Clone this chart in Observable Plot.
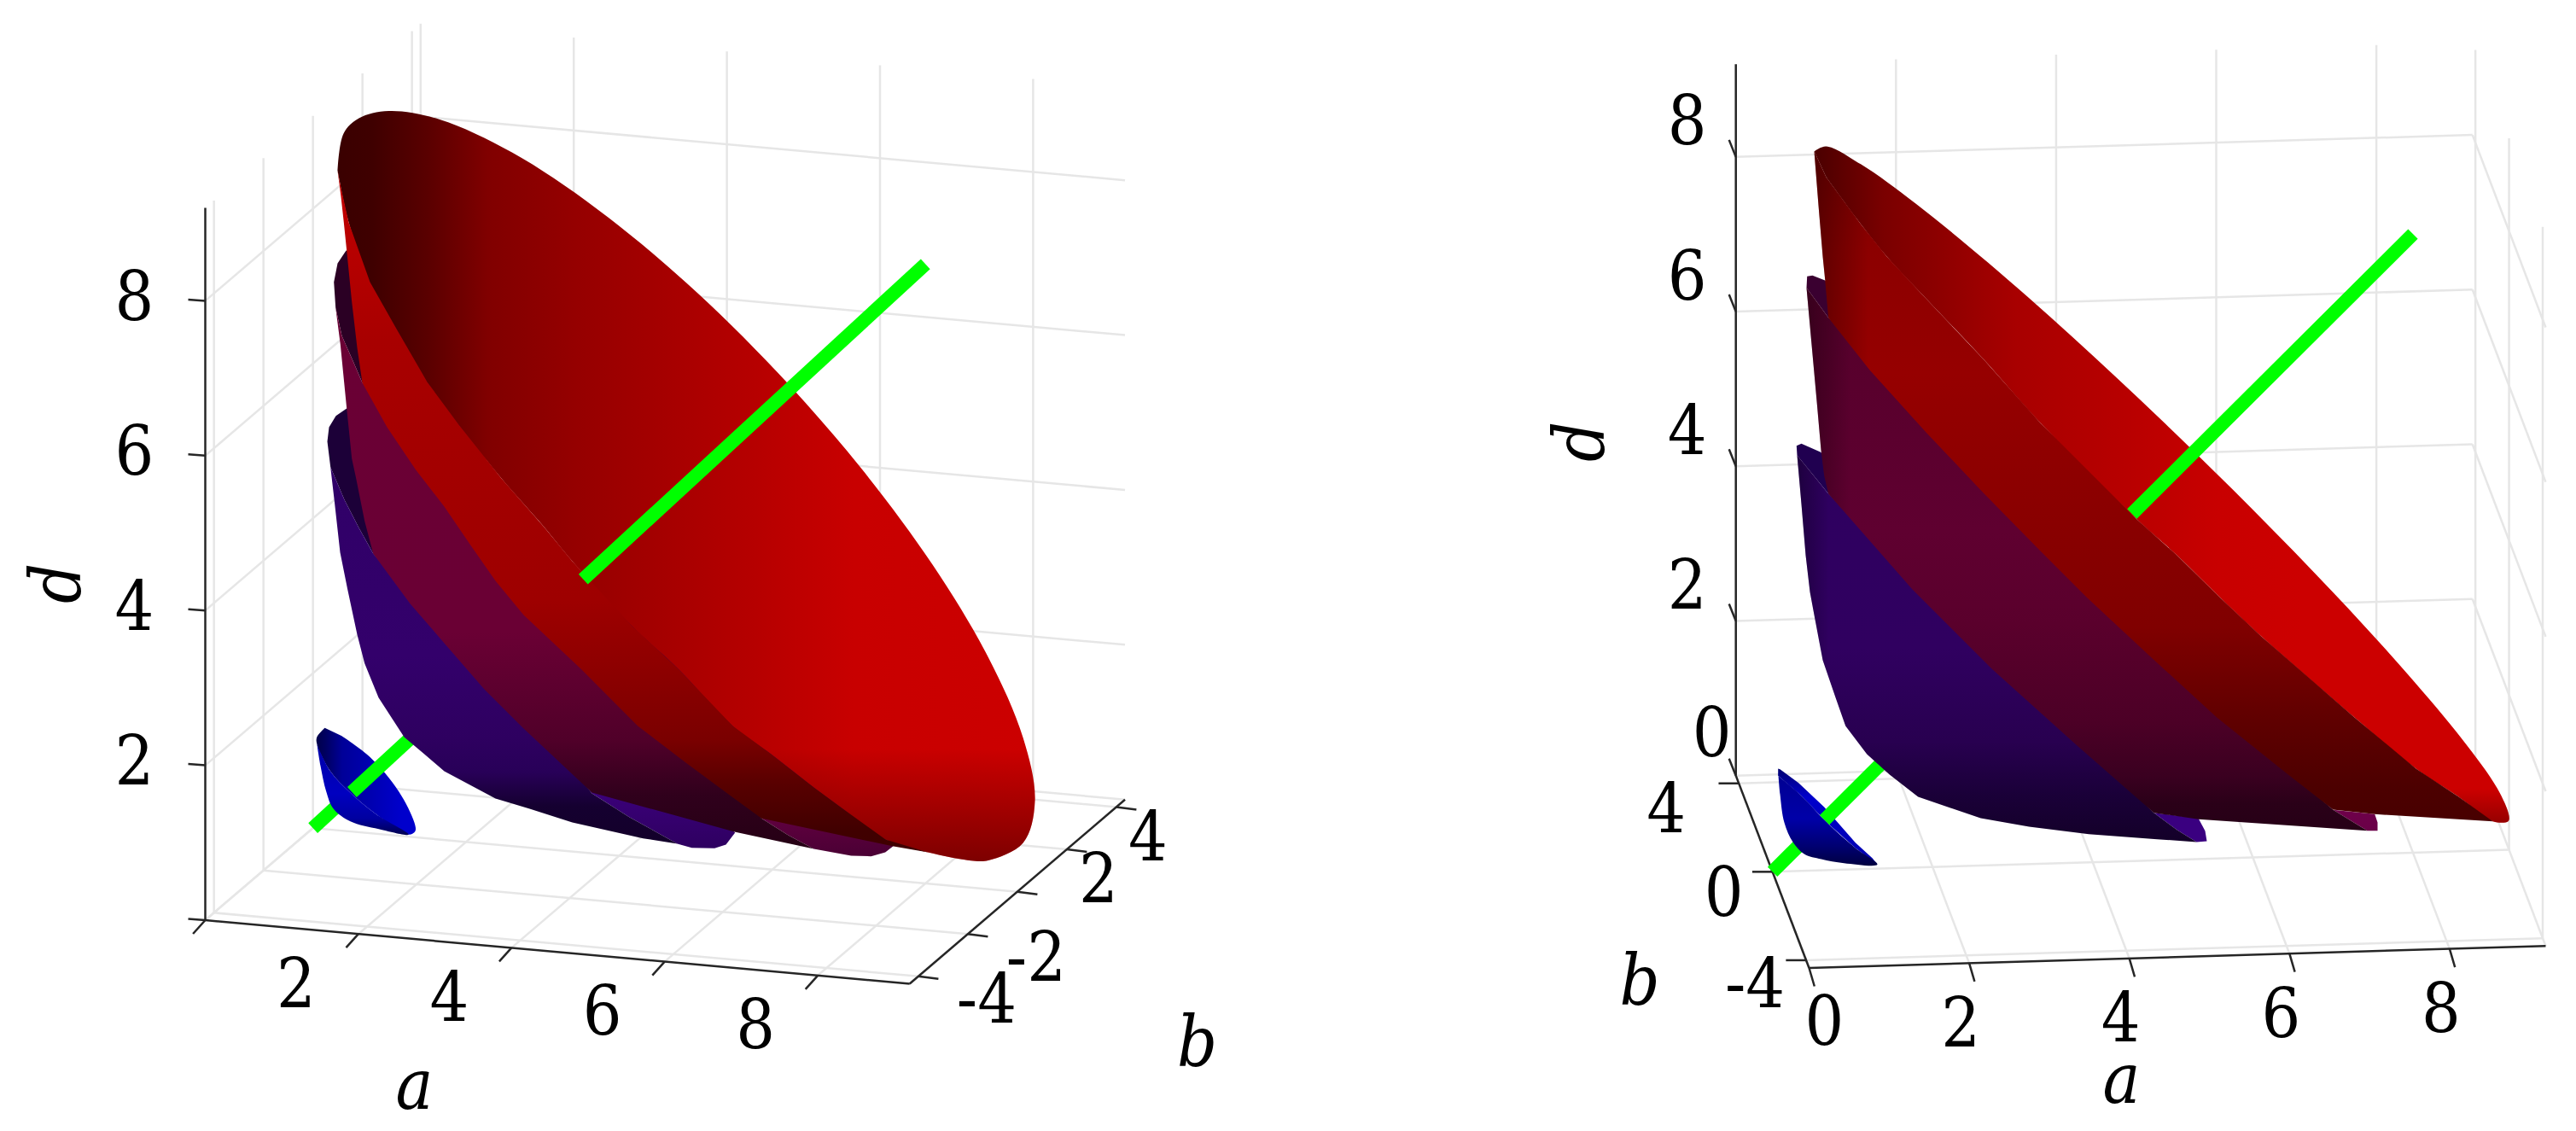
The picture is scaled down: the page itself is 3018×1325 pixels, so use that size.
<!DOCTYPE html>
<html><head><meta charset="utf-8">
<script src="https://cdn.jsdelivr.net/npm/d3@7"></script>
<script src="https://cdn.jsdelivr.net/npm/@observablehq/plot@0.6"></script>
<style>html,body{margin:0;padding:0;background:#fff;overflow:hidden}svg{display:block}
svg text{font-family:"DejaVu Serif Condensed","DejaVu Serif",serif !important}</style>
</head><body><div id="chart"></div>
<script>
// ---- axis values
const aTicks=[0,2,4,6,8];
const dTicks=[0,2,4,6,8];
const bTicksL=[-4,-2,0,2,4];
const bTicksR=[-4,0,4];
const aLabelsL=[2,4,6,8], bLabelsL=[-4,-2,2,4], dLabelsL=[2,4,6,8];
const aLabelsR=[0,2,4,6,8], bLabelsR=[-4,0,4], dLabelsR=[0,2,4,6,8];
const aMax=9.2, bLim=4.35, dMax=9.2;
// ---- the green axis: a = d, b = 0, drawn from a=0 to a=8; visible stretches
const greenLow=[0,0.4];
const greenMidL=[0.51,1.5], greenMidR=[0.65,1.5];
const greenTopL=[3.53,8], greenTopR=[4.49,8];
// ---- surface silhouettes (view-plane units)
const smallDiscL=[[3.80,8.523],[3.707,8.633],[3.71,8.717],[3.867,9.033],[4.10,9.283],[4.40,9.533],[4.783,9.773],[4.86,9.733],[4.85,9.633],[4.667,9.267],[4.333,8.867],[4.00,8.617]];
const smallShellL=[[3.707,8.70],[3.75,8.967],[3.817,9.267],[3.90,9.467],[4.10,9.617],[4.433,9.707],[4.783,9.773],[4.40,9.533],[4.10,9.283],[3.867,9.033],[3.71,8.717]];
const blueDiscL=[[4.057,4.78],[3.93,4.867],[3.85,5.00],[3.83,5.167],[3.867,5.467],[4.03,5.85],[4.20,6.18],[4.367,6.48],[5.00,7.15],[5.70,7.90],[6.40,8.60],[6.93,9.29],[7.367,9.567],[7.93,9.88],[8.10,9.927],[8.367,9.933],[8.50,9.89],[8.607,9.75],[8.00,9.20],[6.00,7.00],[4.50,4.80]];
const blueShellL=[[3.867,5.467],[3.917,5.90],[3.98,6.467],[4.067,6.90],[4.18,7.43],[4.267,7.767],[4.43,8.167],[4.60,8.43],[4.73,8.63],[4.967,8.83],[5.20,9.03],[5.80,9.35],[6.20,9.47],[6.70,9.63],[7.53,9.817],[7.93,9.88],[7.367,9.567],[6.93,9.29],[6.40,8.60],[5.70,7.90],[5.00,7.15],[4.367,6.48],[4.20,6.18],[4.03,5.85]];
const magDiscL=[[4.05,2.93],[3.95,3.08],[3.907,3.30],[3.927,3.60],[4.00,3.93],[4.133,4.23],[4.24,4.48],[5.00,5.30],[6.40,7.00],[8.917,9.583],[9.23,9.78],[9.53,9.94],[9.967,10.02],[10.20,10.027],[10.367,9.98],[10.46,9.907],[9.50,9.00],[6.00,6.00],[4.50,3.00]];
const magShellL=[[3.927,3.60],[3.983,4.03],[4.057,4.78],[4.117,5.367],[4.167,5.60],[4.267,6.10],[4.367,6.48],[4.80,7.067],[5.20,7.53],[5.667,8.067],[6.13,8.53],[6.93,9.28],[8.60,9.74],[9.53,9.94],[9.23,9.78],[8.917,9.583],[8.00,8.40],[6.40,7.00],[5.00,5.30],[4.24,4.48],[4.133,4.23],[4.00,3.93]];
const redDiscL=[[3.95,1.995],[4.02,1.56],[4.20,1.38],[4.55,1.295],[5.146,1.394],[5.993,1.781],[6.978,2.434],[8.035,3.308],[9.092,4.345],[10.078,5.473],[10.924,6.616],[11.573,7.695],[11.981,8.638],[12.12,9.38],[11.981,9.87],[11.573,10.075],[11.40,10.08],[10.867,9.98],[10.37,9.83],[9.87,9.47],[9.53,9.22],[9.03,8.83],[8.58,8.50],[7.94,7.83],[7.40,7.33],[6.70,6.57],[6.37,6.17],[5.87,5.60],[5.37,4.97],[5.00,4.47],[4.63,3.83],[4.33,3.30],[4.08,2.60],[3.98,2.15]];
const redShellL=[[3.95,1.995],[3.99,2.30],[4.023,2.60],[4.057,2.93],[4.117,3.53],[4.18,4.07],[4.24,4.48],[4.53,5.00],[4.867,5.50],[5.20,5.93],[5.50,6.37],[5.80,6.80],[6.13,7.20],[6.80,7.83],[7.467,8.50],[8.03,8.93],[8.53,9.30],[8.917,9.583],[10.45,9.907],[10.867,9.98],[10.37,9.83],[9.87,9.47],[9.53,9.22],[9.03,8.83],[8.58,8.50],[7.94,7.83],[7.40,7.33],[6.70,6.57],[6.37,6.17],[5.87,5.60],[5.37,4.97],[5.00,4.47],[4.63,3.83],[4.33,3.30],[4.08,2.60],[3.98,2.15]];

const smallDiscR=[[20.827,9.00],[20.85,9.007],[21.067,9.167],[21.367,9.45],[21.733,9.867],[21.933,10.05],[21.99,10.123],[21.733,9.93],[21.40,9.633],[21.10,9.317],[20.827,9.083]];
const smallShellR=[[20.827,9.03],[20.85,9.30],[20.90,9.633],[21.00,9.86],[21.133,10.00],[21.333,10.06],[21.60,10.107],[21.99,10.123],[21.733,9.93],[21.40,9.633],[21.10,9.317],[20.827,9.083]];
const blueDiscR=[[21.043,5.217],[21.10,5.193],[21.327,5.293],[22.30,6.50],[24.00,8.30],[25.23,9.517],[25.75,9.58],[25.83,9.73],[25.85,9.85],[25.73,9.86],[25.50,9.717],[25.23,9.517],[23.20,7.50],[21.417,5.78],[21.05,5.33]];
const blueShellR=[[21.05,5.33],[21.10,5.90],[21.15,6.50],[21.20,6.93],[21.25,7.20],[21.35,7.73],[21.50,8.167],[21.617,8.50],[21.867,8.83],[22.13,9.067],[22.467,9.33],[23.20,9.58],[23.767,9.68],[24.467,9.767],[25.267,9.827],[25.73,9.86],[25.50,9.717],[25.23,9.517],[24.20,8.50],[23.20,7.50],[22.30,6.65],[21.417,5.78]];
const magDiscR=[[21.167,3.233],[21.23,3.223],[21.377,3.28],[22.00,4.00],[24.00,6.00],[26.50,8.50],[27.33,9.483],[27.817,9.533],[27.85,9.63],[27.85,9.727],[27.73,9.727],[27.33,9.483],[26.20,8.50],[23.00,5.30],[21.417,3.717],[21.16,3.367]];
const magShellR=[[21.16,3.367],[21.217,4.00],[21.283,4.73],[21.33,5.267],[21.367,5.567],[21.417,5.78],[21.90,6.33],[22.40,6.90],[22.70,7.20],[23.33,7.83],[24.33,8.73],[25.23,9.517],[25.75,9.593],[27.73,9.727],[27.33,9.483],[26.20,8.50],[24.50,6.80],[23.00,5.30],[21.80,4.10],[21.417,3.717]];
const redDiscR=[[21.25,1.768],[21.389,1.709],[21.795,1.918],[22.442,2.383],[23.285,3.071],[24.267,3.936],[25.32,4.918],[26.373,5.95],[27.355,6.963],[28.198,7.887],[28.845,8.659],[29.251,9.227],[29.39,9.55],[29.38,9.617],[29.20,9.617],[28.80,9.33],[28.30,9.00],[27.58,8.40],[26.485,7.447],[26.01,7.00],[25.50,6.50],[25.02,6.07],[23.90,4.95],[23.23,4.20],[22.567,3.50],[22.10,3.00],[21.795,2.62],[21.39,2.07]];
const redShellR=[[21.25,1.768],[21.30,2.40],[21.35,3.00],[21.377,3.267],[21.417,3.717],[21.90,4.33],[22.567,5.067],[23.23,5.767],[23.90,6.45],[24.45,7.00],[25.167,7.667],[25.967,8.40],[26.80,9.067],[27.33,9.48],[27.817,9.533],[29.20,9.617],[28.80,9.33],[28.30,9.00],[27.58,8.40],[26.485,7.447],[26.01,7.00],[25.50,6.50],[25.02,6.07],[23.90,4.95],[23.23,4.20],[22.567,3.50],[22.10,3.00],[21.795,2.62],[21.39,2.07]];

// ---- colours of the shaded faces: [direction, [offset, colour, opacity?], ...]
const shades={
 smallDiscL:["h",[0,"#00004a"],[.09,"#000060"],[.26,"#000098"],[.54,"#0000b0"],[.86,"#0000cc"],[1,"#0000cc"]],
 smallShellL:["v",[0,"#0000a8"],[.55,"#0000c0"],[.82,"#0000a0"],[1,"#000050"]],
 blueDiscL:["v",[0,"#1c0038"],[.33,"#1c0038"],[.88,"#3a0078"],[1,"#2e0060"]],
 blueShellL:["v",[0,"#300068"],[.5,"#33006b"],[.72,"#2e0060"],[.81,"#280058"],[.9,"#150030"],[1,"#13002a"]],
 magDiscL:["v",[0,"#2b0024"],[.25,"#2b0024"],[.93,"#620040"],[1,"#4a0034"]],
 magShellL:["v",[0,"#6a0035"],[.6,"#6a0034"],[.8,"#500029"],[.9,"#30001c"],[1,"#250014"]],
 redDiscL:["h",[0,"#3a0000"],[.05,"#3f0000"],[.13,"#5a0000"],[.215,"#800000"],[.34,"#950000"],[.74,"#c80000"],[1,"#cc0000"]],
 redShellL:["v",[0,"#c80000"],[.1,"#b80000"],[.25,"#a80000"],[.63,"#9e0000"],[.72,"#8f0000"],[.835,"#7a0000"],[.9,"#580000"],[.97,"#400000"],[1,"#3f0000"]],
 smallDiscR:["v",[0,"#000070"],[.3,"#0000cc"],[1,"#0000b0"]],
 smallShellR:["v",[0,"#000090"],[.5,"#0000a8"],[.8,"#000070"],[1,"#000040"]],
 blueDiscR:["v",[0,"#200050"],[.5,"#200050"],[.92,"#3a0080"],[1,"#3a0080"]],
 blueShellR:["v",[0,"#2e0060"],[.5,"#300060"],[.74,"#280050"],[.88,"#1a0038"],[1,"#130028"]],
 magDiscR:["v",[0,"#3a0030"],[.5,"#3a0030"],[.95,"#70004a"],[1,"#6a0048"]],
 magShellR:["v",[0,"#55002b"],[.45,"#5f0030"],[.62,"#5a002c"],[.8,"#4c0026"],[.9,"#3a0020"],[.95,"#2a0018"],[1,"#260016"]],
 redDiscR:["h",[0,"#4a0000"],[.1,"#7a0000"],[.29,"#a80000"],[.45,"#b80000"],[.58,"#c80000"],[.7,"#cc0000"],[1,"#cc0000"]],
 redShellR:["v",[0,"#7a0000"],[.15,"#8c0000"],[.33,"#960000"],[.71,"#800000"],[.85,"#5f0000"],[.95,"#4c0000"],[1,"#480000"]],
 fadeL:["v",[0,"#300000",0],[.85,"#300000",0],[1,"#300000",.5]],
 fadeR:["v",[0,"#300000",0],[.95,"#300000",0],[1,"#300000",.35]],
 edgeR:["h",[0,"#000",.35],[.08,"#000",0],[1,"#000",0]]
};

// ---- the two views: where one unit of each of a, b, d lands on the view plane
const viewL={o:[2.40,10.775],a:[.897,.081],b:[.29,-.248],d:[0,-.907],side:0,dAxisB:-bLim,bAxisA:aMax,
  dTick:[-.20,-.015],aTick:[-.144,.16],bTick:[.235,.03]};
const viewR={o:[21.19,11.335],a:[.938,-.028],b:[-.0986,-.259],d:[0,-.906],side:aMax,dAxisB:bLim,bAxisA:0,
  dTick:[-.08,-.20],aTick:[.063,.215],bTick:[-.237,0]};
const project=(v,a,b,d)=>[v.o[0]+v.a[0]*a+v.b[0]*(b+bLim)+v.d[0]*d, v.o[1]+v.a[1]*a+v.b[1]*(b+bLim)+v.d[1]*d];
const seg=(v,p,q)=>{const P=project(v,...p),Q=project(v,...q);return {x1:P[0],y1:P[1],x2:Q[0],y2:Q[1]};};

function gridSegs(v,bT){
  const s=[];
  for(const a of aTicks){s.push(seg(v,[a,-bLim,0],[a,bLim,0]));s.push(seg(v,[a,bLim,0],[a,bLim,dMax]));}
  for(const b of bT){s.push(seg(v,[0,b,0],[aMax,b,0]));s.push(seg(v,[v.side,b,0],[v.side,b,dMax]));}
  for(const d of dTicks){s.push(seg(v,[0,bLim,d],[aMax,bLim,d]));s.push(seg(v,[v.side,-bLim,d],[v.side,bLim,d]));}
  return s;
}
function axisSegs(v){
  return [seg(v,[0,v.dAxisB,0],[0,v.dAxisB,dMax]),seg(v,[0,-bLim,0],[aMax,-bLim,0]),seg(v,[v.bAxisA,-bLim,0],[v.bAxisA,bLim,0])];
}
function tickSegs(v,bT){
  const t=(p,o)=>{const P=project(v,...p);return {x1:P[0],y1:P[1],x2:P[0]+o[0],y2:P[1]+o[1]};};
  return [...dTicks.map(d=>t([0,v.dAxisB,d],v.dTick)),...aTicks.map(a=>t([a,-bLim,0],v.aTick)),...bT.map(b=>t([v.bAxisA,b,0],v.bTick))];
}
const links=(data,stroke,strokeWidth)=>Plot.link(data,{x1:"x1",y1:"y1",x2:"x2",y2:"y2",stroke,strokeWidth});
const green=(v,r)=>Plot.link([seg(v,[r[0],0,r[0]],[r[1],0,r[1]])],{x1:"x1",y1:"y1",x2:"x2",y2:"y2",stroke:"#00ff00",strokeWidth:16,strokeLinecap:"butt"});
const face=(name,pts,curve)=>Plot.line(pts,{x:"0",y:"1",fill:`url(#${name})`,stroke:"none",curve:curve||"linear"});

const numFont={fontSize:80,fill:"#000",lineAnchor:"middle",textAnchor:"middle"};
const varFont={fontStyle:"italic",fontSize:82,fill:"#000",lineAnchor:"middle",textAnchor:"middle"};
const tickText=(vals,pos,off)=>Plot.text(vals.map(t=>{const p=pos(t),o=off(t);return {x:p[0]+o[0],y:p[1]+o[1],t:String(t)};}),{x:"x",y:"y",text:"t",...numFont});
const axisName=(name,pos,rotate)=>Plot.text([{x:pos[0],y:pos[1],t:name}],{x:"x",y:"y",text:"t",rotate:rotate||0,...varFont});

const defs=()=>{
  const d=d3.create("svg:defs");
  for(const [id,[dir,...stops]] of Object.entries(shades)){
    const g=d.append("linearGradient").attr("id",id).attr("x1",0).attr("y1",0).attr("x2",dir==="h"?1:0).attr("y2",dir==="h"?0:1);
    for(const [o,c,op] of stops) g.append("stop").attr("offset",o).attr("stop-color",c).attr("stop-opacity",op===undefined?1:op);
  }
  return d.node();
};

const chart=Plot.plot({
  width:3018,height:1325,marginTop:0,marginRight:0,marginBottom:0,marginLeft:0,
  x:{domain:[0,30.18],range:[0,3018],axis:null},
  y:{domain:[0,13.25],range:[0,1325],axis:null},
  style:{background:"#fff"},
  marks:[
    defs,
    // left view
    links(gridSegs(viewL,bTicksL),"#e6e6e6",2.5),
    links(axisSegs(viewL),"#262626",2.5),
    links(tickSegs(viewL,bTicksL),"#262626",2.5),
    green(viewL,greenLow),
    face("smallDiscL",smallDiscL,"catmull-rom"),face("smallShellL",smallShellL,"catmull-rom"),
    green(viewL,greenMidL),
    face("blueDiscL",blueDiscL),face("blueShellL",blueShellL),
    face("magDiscL",magDiscL),face("magShellL",magShellL),
    face("redDiscL",redDiscL,"catmull-rom"),face("fadeL",redDiscL,"catmull-rom"),face("redShellL",redShellL),
    green(viewL,greenTopL),
    tickText(dLabelsL,d=>project(viewL,0,viewL.dAxisB,d),()=>[-.83,-.03]),
    tickText(aLabelsL,a=>project(viewL,a,-bLim,0),()=>[-.73,.60]),
    tickText(bLabelsL,b=>project(viewL,aMax,b,0),b=>b<0?[.80,.29]:[.37,.365]),
    axisName("a",[4.85,12.72]),axisName("b",[14.02,12.225]),axisName("d",[.67,6.83],-90),
    // right view
    links(gridSegs(viewR,bTicksR),"#e6e6e6",2.5),
    links(axisSegs(viewR),"#262626",2.5),
    links(tickSegs(viewR,bTicksR),"#262626",2.5),
    green(viewR,greenLow),
    face("smallDiscR",smallDiscR),face("smallShellR",smallShellR,"catmull-rom"),
    green(viewR,greenMidR),
    face("blueDiscR",blueDiscR),face("blueShellR",blueShellR),face("edgeR",blueShellR),
    face("magDiscR",magDiscR),face("magShellR",magShellR),face("edgeR",magShellR),
    face("redDiscR",redDiscR,"catmull-rom"),face("fadeR",redDiscR,"catmull-rom"),face("redShellR",redShellR),face("edgeR",redShellR),
    green(viewR,greenTopR),
    tickText(dLabelsR,d=>project(viewR,0,bLim,d),d=>d===0?[-.28,-.48]:[-.57,-.40]),
    tickText(aLabelsR,a=>project(viewR,a,-bLim,0),a=>a===0?[.18,.645]:[-.10,.72]),
    tickText(bLabelsR,b=>project(viewR,0,b,0),b=>b===4?[-.85,.32]:b===0?[-.57,.26]:[-.60,.29]),
    axisName("a",[24.85,12.65]),axisName("b",[19.205,11.506]),axisName("d",[18.526,5.17],-90)
  ]
});
document.getElementById("chart").append(chart);
</script></body></html>
